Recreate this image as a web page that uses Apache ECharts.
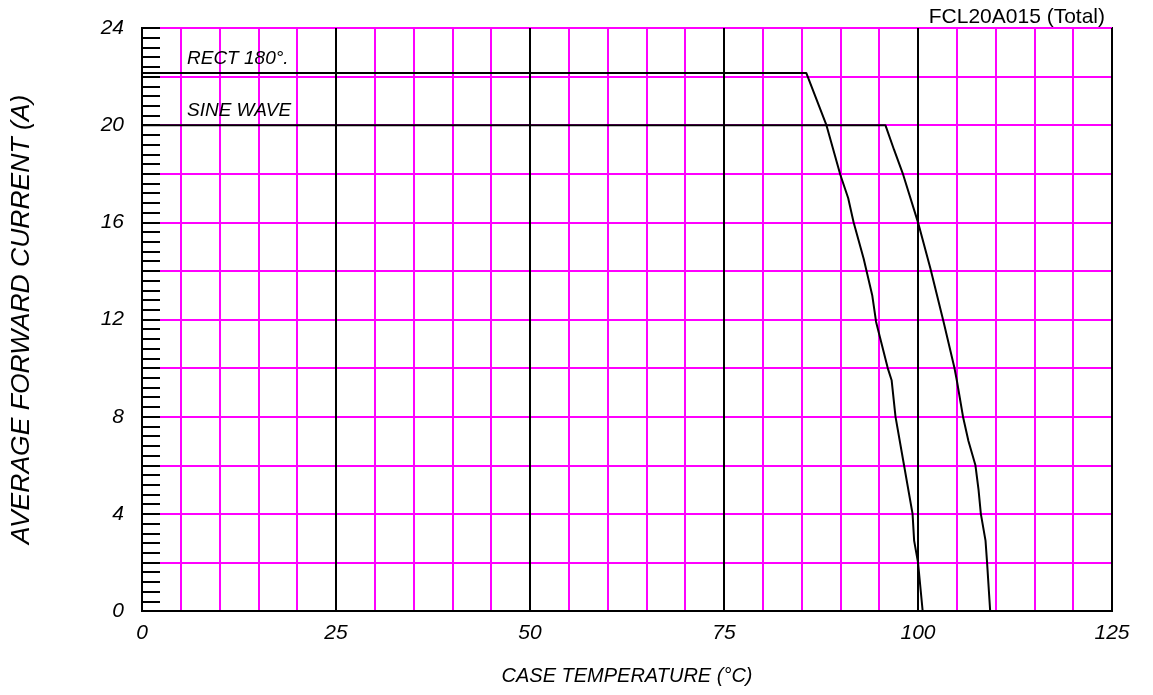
<!DOCTYPE html>
<html>
<head>
<meta charset="utf-8">
<script src="https://cdn.jsdelivr.net/npm/echarts@6/dist/echarts.min.js"></script>
<style>html,body{margin:0;padding:0;background:#fff}#c{width:1153px;height:695px}</style>
</head>
<body>
<div id="c"></div>
<script>
// Data
const rectTemp    = [0, 85.6, 88.2, 90.0, 91.0, 91.7, 93.0, 94.1, 94.6, 96.1, 96.6, 97.1, 98.2, 99.3, 99.5, 100.0, 100.6];
const rectCurrent = [22.15, 22.15, 20.0, 17.95, 17.0, 16.0, 14.5, 13.0, 11.9, 10.0, 9.5, 8.0, 6.0, 4.0, 2.9, 2.0, 0];
const sineTemp    = [0, 95.8, 96.9, 98.1, 100.0, 101.6, 103.3, 104.7, 105.0, 105.8, 106.5, 107.4, 107.8, 108.1, 108.7, 108.9, 109.3];
const sineCurrent = [20.0, 20.0, 19.0, 17.95, 16.0, 14.1, 11.9, 10.0, 9.5, 8.0, 7.0, 6.0, 5.0, 4.0, 2.9, 2.0, 0];
const xTicks = [0, 25, 50, 75, 100, 125];
const yTicks = [0, 4, 8, 12, 16, 20, 24];
const chartTitle = 'FCL20A015 (Total)';
const xName = 'CASE TEMPERATURE (°C)';
const yName = 'AVERAGE FORWARD CURRENT (A)';
const rectLabel = 'RECT 180°.';
const sineLabel = 'SINE WAVE';

const zip = (a, b) => a.map((v, i) => [v, b[i]]);
const MAG = '#ff00ff';
const FONT = '"Liberation Sans", Arial, sans-serif';

const chart = echarts.init(document.getElementById('c'), null, {renderer: 'canvas'});
chart.setOption({
  animation: false,
  backgroundColor: '#fff',
  title: {
    text: chartTitle, right: 43, top: 2,
    textStyle: {fontFamily: FONT, fontSize: 21, fontWeight: 'normal', color: '#000'}
  },
  grid: {left: 140, right: 41, top: 28, bottom: 84, show: true, borderColor: '#000', borderWidth: 2, backgroundColor: 'transparent'},
  xAxis: {
    type: 'value', min: 0, max: 125, interval: 5,
    name: xName, nameLocation: 'middle', nameGap: 55,
    nameTextStyle: {fontFamily: FONT, fontSize: 20, fontStyle: 'italic', color: '#000'},
    axisLine: {show: true, lineStyle: {color: '#000', width: 2}},
    axisTick: {show: false},
    axisLabel: {
      margin: 12, fontFamily: FONT, fontSize: 21, fontStyle: 'italic', color: '#000',
      formatter: v => xTicks.includes(v) ? String(v) : '',
      showMinLabel: true, showMaxLabel: true, hideOverlap: false
    },
    splitLine: {show: true, lineStyle: {color: ['#000', MAG, MAG, MAG, MAG], width: 2}}
  },
  yAxis: {
    type: 'value', min: 0, max: 24, interval: 2,
    name: yName, nameLocation: 'middle', nameGap: 107, nameRotate: 90,
    nameTextStyle: {fontFamily: FONT, fontSize: 26.5, fontStyle: 'italic', color: '#000'},
    axisLine: {show: true, lineStyle: {color: '#000', width: 2}},
    axisTick: {show: true, inside: true, length: 18, lineStyle: {color: '#000', width: 2}},
    minorTick: {show: true, splitNumber: 5, length: 18, lineStyle: {color: '#000', width: 2}},
    axisLabel: {
      margin: 18, fontFamily: FONT, fontSize: 21, fontStyle: 'italic', color: '#000',
      formatter: v => yTicks.includes(v) ? String(v) : '',
      showMinLabel: true, showMaxLabel: true
    },
    splitLine: {show: true, lineStyle: {color: MAG, width: 2}}
  },
  graphic: [
    {type: 'text', left: 187, top: 49, style: {text: rectLabel, font: 'italic 19px ' + FONT, fill: '#000'}, z: 100},
    {type: 'text', left: 187, top: 101, style: {text: sineLabel, font: 'italic 19px ' + FONT, fill: '#000'}, z: 100}
  ],
  series: [
    {type: 'line', data: zip(rectTemp, rectCurrent), showSymbol: false, symbol: 'none', lineStyle: {color: '#000', width: 2}, z: 10},
    {type: 'line', data: zip(sineTemp, sineCurrent), showSymbol: false, symbol: 'none', lineStyle: {color: '#000', width: 2}, z: 10}
  ]
});
</script>
</body>
</html>
